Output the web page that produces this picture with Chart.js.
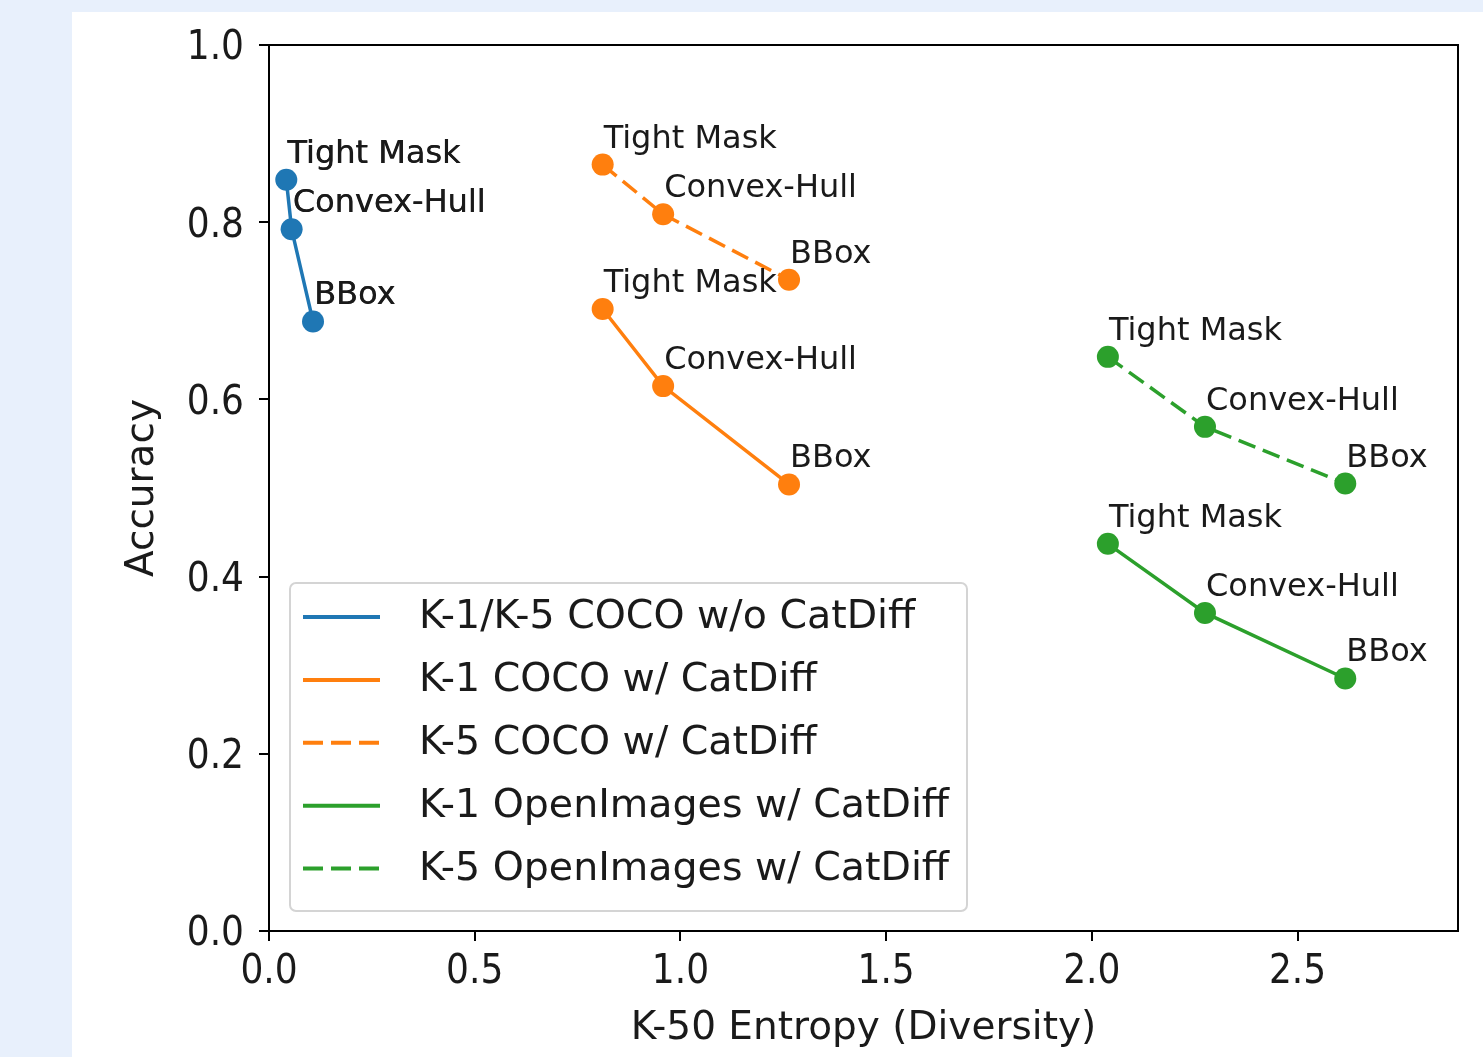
<!DOCTYPE html>
<html>
<head>
<meta charset="utf-8">
<script src="https://cdn.jsdelivr.net/npm/chart.js@4.4.1/dist/chart.umd.min.js"></script>
<style>
  html, body { margin: 0; padding: 0; background: #e8f0fc; }
  #wrap { position: absolute; left: 0; top: 0; width: 1483px; height: 1057px; }
</style>
</head>
<body>
<div id="wrap"><canvas id="chart" width="1483" height="1057"></canvas></div>
<script>
// point names shared by every series
const methodLabels = ['Tight Mask', 'Convex-Hull', 'BBox'];

// K-50 entropy (x) and accuracy (y)
const baseEntropy = [0.042, 0.055, 0.107];
const baseAcc     = [0.848, 0.792, 0.688];
const cocoEntropy = [0.811, 0.958, 1.264];
const cocoK1Acc   = [0.702, 0.615, 0.504];
const cocoK5Acc   = [0.865, 0.809, 0.735];
const openEntropy = [2.039, 2.275, 2.616];
const openK1Acc   = [0.437, 0.359, 0.285];
const openK5Acc   = [0.648, 0.569, 0.505];

const seriesNames = [
    'K-1/K-5 COCO w/o CatDiff',
    'K-1 COCO w/ CatDiff',
    'K-5 COCO w/ CatDiff',
    'K-1 OpenImages w/ CatDiff',
    'K-5 OpenImages w/ CatDiff'
];

const xTickValues = [0, 0.5, 1.0, 1.5, 2.0, 2.5];
const yTickValues = [0, 0.2, 0.4, 0.6, 0.8, 1.0];

const BLUE = '#1f77b4', ORANGE = '#ff7f0e', GREEN = '#2ca02c';
const DASH = [18, 8];
const TEXT = '#1a1a1a';
const FONT = 'DejaVu Sans';

const toPts = (xs, ys) => xs.map((x, i) => ({ x: x, y: ys[i] }));

const mkSet = (name, xs, ys, color, dashed) => ({
    label: name,
    data: toPts(xs, ys),
    borderColor: color,
    backgroundColor: color,
    pointBackgroundColor: color,
    pointBorderColor: color,
    borderWidth: 3.5,
    borderDash: dashed ? DASH : [],
    pointRadius: 11,
    pointBorderWidth: 0,
    showLine: true,
    fill: false,
    tension: 0
});

const datasets = [
    mkSet(seriesNames[0], baseEntropy, baseAcc, BLUE, false),
    mkSet(seriesNames[1], cocoEntropy, cocoK1Acc, ORANGE, false),
    mkSet(seriesNames[2], cocoEntropy, cocoK5Acc, ORANGE, true),
    mkSet(seriesNames[3], openEntropy, openK1Acc, GREEN, false),
    mkSet(seriesNames[4], openEntropy, openK5Acc, GREEN, true)
];

// page background, frame, point annotations and the in-plot legend
const decor = {
    id: 'decor',
    beforeDraw(chart) {
        const ctx = chart.ctx;
        ctx.save();
        ctx.fillStyle = '#e8f0fc';
        ctx.fillRect(0, 0, chart.width, chart.height);
        ctx.fillStyle = '#ffffff';
        ctx.fillRect(72, 12, chart.width - 72, chart.height - 12);
        ctx.restore();
    },
    afterDatasetsDraw(chart) {
        const ctx = chart.ctx;
        const a = chart.chartArea;
        ctx.save();

        // annotations next to each point
        ctx.font = '32px "' + FONT + '"';
        ctx.fillStyle = TEXT;
        ctx.textAlign = 'left';
        ctx.textBaseline = 'alphabetic';
        chart.data.datasets.forEach((ds, di) => {
            const meta = chart.getDatasetMeta(di);
            meta.data.forEach((pt, i) => {
                ctx.fillText(methodLabels[i], pt.x + 1, pt.y - 17);
                // blue series is plotted twice (K-1 and K-5) in the source
                if (di === 0) ctx.fillText(methodLabels[i], pt.x + 1.4, pt.y - 17);
            });
        });

        // frame
        ctx.strokeStyle = '#000';
        ctx.lineWidth = 2;
        ctx.strokeRect(a.left, a.top, a.right - a.left, a.bottom - a.top);

        // legend box
        const lx = a.left + 21, ly = a.top + 538, lw = 677, lh = 328;
        ctx.beginPath();
        ctx.roundRect(lx, ly, lw, lh, 6);
        ctx.fillStyle = 'rgba(255,255,255,0.85)';
        ctx.fill();
        ctx.strokeStyle = '#d4d4d4';
        ctx.lineWidth = 2;
        ctx.stroke();

        ctx.font = '39.5px "' + FONT + '"';
        ctx.textBaseline = 'middle';
        chart.data.datasets.forEach((ds, di) => {
            const y = ly + 34 + di * 62.9;
            ctx.beginPath();
            ctx.strokeStyle = ds.borderColor;
            ctx.lineWidth = 4;
            ctx.setLineDash(ds.borderDash.length ? [20, 8] : []);
            ctx.moveTo(lx + 13, y);
            ctx.lineTo(lx + 90, y);
            ctx.stroke();
            ctx.setLineDash([]);
            ctx.fillStyle = TEXT;
            ctx.fillText(ds.label, lx + 129, y + 1);
        });
        ctx.restore();
    }
};

const axisCommon = {
    type: 'linear',
    grid: { display: true, drawOnChartArea: false, drawTicks: true, tickLength: 10, color: '#000', lineWidth: 2 },
    border: { display: true, color: '#000', width: 2 }
};

new Chart(document.getElementById('chart'), {
    type: 'scatter',
    data: { datasets: datasets },
    options: {
        responsive: false,
        animation: false,
        devicePixelRatio: 1,
        layout: { padding: { left: 72, top: 45, right: 25, bottom: 0 } },
        plugins: { legend: { display: false }, tooltip: { enabled: false } },
        scales: {
            x: {
                ...axisCommon,
                position: 'bottom',
                min: 0,
                max: 2.89,
                afterBuildTicks: s => { s.ticks = xTickValues.map(v => ({ value: v })); },
                afterFit: s => { s.height = 126; },
                ticks: {
                    callback: v => v.toFixed(1),
                    font: { size: 40, family: 'DejaVu Sans Condensed, DejaVu Sans' },
                    color: TEXT, padding: 8, maxRotation: 0, autoSkip: false
                },
                title: {
                    display: true, text: 'K-50 Entropy (Diversity)', color: TEXT,
                    font: { size: 39, family: FONT }, padding: { top: 0, bottom: 5 }
                }
            },
            y: {
                ...axisCommon,
                position: 'left',
                min: 0,
                max: 1,
                afterBuildTicks: s => { s.ticks = yTickValues.map(v => ({ value: v })); },
                afterFit: s => { s.width = 197; },
                ticks: {
                    callback: v => v.toFixed(1),
                    font: { size: 40, family: 'DejaVu Sans Condensed, DejaVu Sans' },
                    color: TEXT, padding: 15, labelOffset: 4
                },
                title: {
                    display: true, text: 'Accuracy', color: TEXT,
                    font: { size: 39, family: FONT }, padding: { top: 47, bottom: 0 }
                }
            }
        }
    },
    plugins: [decor]
});
</script>
</body>
</html>
